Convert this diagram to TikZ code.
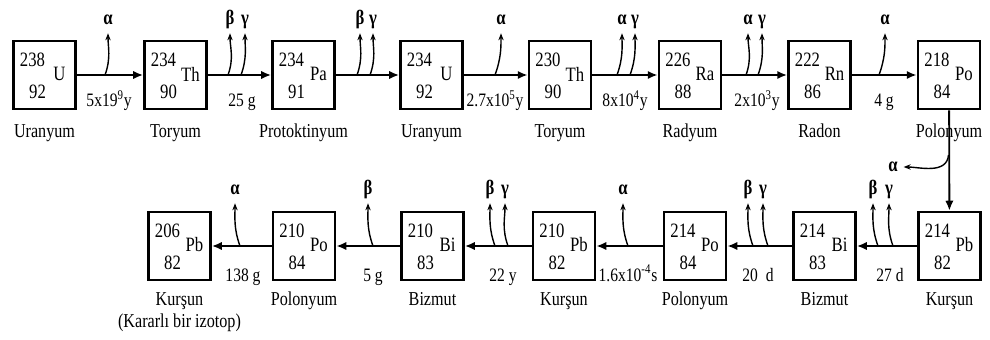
\documentclass[tikz,border=0pt]{standalone}
\usepackage{fontspec}
\setmainfont{Liberation Serif}[FakeStretch=0.82]
\usetikzlibrary{arrows.meta, positioning}

\begin{document}
\begin{tikzpicture}[
      x=0.025cm, y=0.025cm,
      box/.style={draw, line width=2pt, minimum width=1.55cm, minimum height=1.7cm},
      num/.style={font=\fontsize{14.5}{14.5}\selectfont, inner sep=0pt},
      nm/.style={font=\fontsize{14}{14}\selectfont, inner sep=0pt, anchor=base},
      hl/.style={font=\fontsize{13.5}{13.5}\selectfont, inner sep=0pt, anchor=base},
      ray/.style={font=\fontsize{14.5}{14.5}\selectfont\bfseries, inner sep=1pt,
                  text height=8.5pt, text depth=2pt},
      arr/.style={-{Latex[length=7pt, width=6pt]}, line width=2pt},
      emit/.style={-{Stealth[length=5pt, width=3.8pt]}, line width=1pt, shorten >=3pt}]

    \useasboundingbox (0,0) rectangle (990,-340);

    % ============================================
    % top row: U-238 ... Po-218
    % ============================================
    \def\yt{-75}
    \foreach \n/\x/\A/\Z/\s/\lab in {u238/44.5/238/92/U/Uranyum,
        th234/175.5/234/90/Th/Toryum, pa234/303.5/234/91/Pa/Protoktinyum,
        u234/431.5/234/92/U/Uranyum, th230/560/230/90/Th/Toryum,
        ra226/690/226/88/Ra/Radyum, rn222/819.5/222/86/Rn/Radon,
        po218/949/218/84/Po/Polonyum} {
        \node[box] (\n) at (\x,\yt) {};
        \node[num] (\n-A) at (\x-12,\yt+15) {\A};
        \node[num] (\n-Z) at (\x-7,\yt-17) {\Z};
        \node[num] (\n-S) at (\x+15,\yt+1) {\s};
        \node[nm] (\n-n) at (\x,\yt-63) {\lab};
    }

    \foreach \a/\b in {u238/th234, th234/pa234, pa234/u234, u234/th230,
        th230/ra226, ra226/rn222, rn222/po218} {
        \draw[arr] (\a) -- (\b);
    }

    % emitted particles
    \foreach \n/\sx/\tx/\t in {a1/105/108/α, b1/228/230/β, g1/241/245/γ,
        b2/357/360/β, g2/370/373/γ, a2/495/501/α, a3/617/622/α, g3/630/635/γ,
        a4/746/748/α, g4/758/762/γ, a5/879/885/α} {
        \coordinate (\n-s) at (\sx,\yt);
        \node[ray] (\n) at (\tx,\yt+55) {\t};
        \draw[emit] (\n-s) to[out=70, in=-90] (\n.south);
    }

    % half-lives
    \node[hl] (t1) at (109,\yt-32) {5x19\textsuperscript{9}y};
    \node[hl] (t2) at (242,\yt-32) {25 g};
    \node[hl] (t4) at (495,\yt-32) {2.7x10\textsuperscript{5}y};
    \node[hl] (t5) at (625,\yt-32) {8x10\textsuperscript{4}y};
    \node[hl] (t6) at (757,\yt-32) {2x10\textsuperscript{3}y};
    \node[hl] (t7) at (884,\yt-32) {4 g};

    % ============================================
    % bottom row: Pb-214 ... Pb-206
    % ============================================
    \def\yb{-246}
    \foreach \n/\x/\A/\Z/\s/\lab in {pb214/949.5/214/82/Pb/Kurşun,
        bi214/824.5/214/83/Bi/Bizmut, po214/695/214/84/Po/Polonyum,
        pb210/564/210/82/Pb/Kurşun, bi210/432.5/210/83/Bi/Bizmut,
        po210/304/210/84/Po/Polonyum, pb206/179.5/206/82/Pb/Kurşun} {
        \node[box] (\n) at (\x,\yb) {};
        \node[num] (\n-A) at (\x-12,\yb+15) {\A};
        \node[num] (\n-Z) at (\x-7,\yb-17) {\Z};
        \node[num] (\n-S) at (\x+15,\yb+1) {\s};
        \node[nm] (\n-n) at (\x,\yb-59) {\lab};
    }
    \node[nm] (pb206-n2) at (179.5,-327) {(Kararlı bir izotop)};

    \foreach \a/\b in {pb214/bi214, bi214/po214, po214/pb210, pb210/bi210,
        bi210/po210, po210/pb206} {
        \draw[arr] (\a) -- (\b);
    }

    \foreach \n/\sx/\tx/\t in {b5/878/873/β, g5/893/889/γ, b6/753/748/β,
        g6/768/763/γ, a6/628/623/α, b7/495/490/β, g7/508/505/γ,
        b8/373/368/β, a7/240/235/α} {
        \coordinate (\n-s) at (\sx,\yb);
        \node[ray] (\n) at (\tx,\yb+56) {\t};
        \draw[emit] (\n-s) to[out=110, in=-90] (\n.south);
    }

    \node[hl] (t9) at (890,\yb-35) {27 d};
    \node[hl] (t10) at (758,\yb-35) {20~~d};
    \node[hl] (t11) at (628,\yb-35) {1.6x10\textsuperscript{-4}s};
    \node[hl] (t12) at (503,\yb-35) {22 y};
    \node[hl] (t13) at (373,\yb-35) {5 g};
    \node[hl] (t14) at (243,\yb-35) {138 g};

    % Po-218 down to Pb-214, alpha to the left
    \draw[arr, line width=1.3pt] (po218) -- (pb214);
    \coordinate (av-s) at (948.5,-155);
    \node[ray] (av) at (893,-167) {α};
    \draw[emit] (av-s) to[out=-95, in=0] (av.east);

\end{tikzpicture}
\end{document}
